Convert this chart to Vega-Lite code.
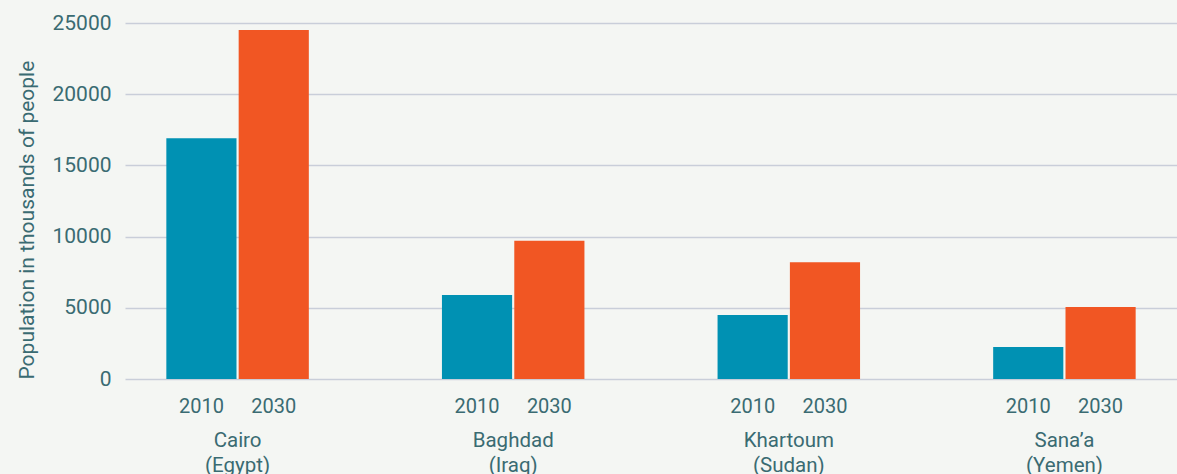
{
  "$schema": "https://vega.github.io/schema/vega-lite/v6.json",
  "width": 1052,
  "height": 356,
  "autosize": {"type": "none"},
  "padding": {"left": 125, "top": 23, "right": 0, "bottom": 95},
  "background": "#f4f6f3",
  "config": {
    "view": {"stroke": null},
    "font": "Roboto",
    "text": {"font": "Roboto"}
  },
  "data": {
    "values": [
      {"city": "Cairo (Egypt)", "year": "2010", "population": 16900},
      {"city": "Cairo (Egypt)", "year": "2030", "population": 24500},
      {"city": "Baghdad (Iraq)", "year": "2010", "population": 5900},
      {"city": "Baghdad (Iraq)", "year": "2030", "population": 9700},
      {"city": "Khartoum (Sudan)", "year": "2010", "population": 4500},
      {"city": "Khartoum (Sudan)", "year": "2030", "population": 8200},
      {"city": "Sana’a (Yemen)", "year": "2010", "population": 2250},
      {"city": "Sana’a (Yemen)", "year": "2030", "population": 5050}
    ]
  },
  "encoding": {
    "x": {
      "field": "city",
      "type": "nominal",
      "sort": null,
      "scale": {"paddingInner": 0.483, "paddingOuter": 0.15},
      "axis": {
        "title": null,
        "domain": false,
        "ticks": false,
        "labelAngle": 0,
        "labelExpr": "split(datum.value, ' ')",
        "labelPadding": 51,
        "labelFontSize": 20.5,
        "labelLineHeight": 25,
        "labelColor": "#3a6b72",
        "labelFont": "Roboto"
      }
    },
    "xOffset": {
      "field": "year",
      "type": "nominal",
      "scale": {"paddingInner": 0.03}
    }
  },
  "layer": [
    {
      "mark": {"type": "bar"},
      "encoding": {
        "y": {
          "field": "population",
          "type": "quantitative",
          "scale": {"domain": [0, 25000], "nice": false},
          "axis": {
            "title": "Population in thousands of people",
            "titleFontSize": 21,
            "titleFontWeight": "normal",
            "titleColor": "#3a6b72",
            "titleFont": "Roboto",
            "titleAnchor": "start",
            "titlePadding": 14,
            "values": [0, 5000, 10000, 15000, 20000, 25000],
            "format": "d",
            "domain": false,
            "ticks": false,
            "labelPadding": 14,
            "labelFontSize": 21,
            "labelColor": "#3a6b72",
            "labelFont": "Roboto",
            "gridColor": "#c9ced9",
            "gridWidth": 1.6
          }
        },
        "color": {
          "field": "year",
          "type": "nominal",
          "scale": {"domain": ["2010", "2030"], "range": ["#0091b3", "#f15623"]},
          "legend": null
        }
      }
    },
    {
      "mark": {"type": "text", "fontSize": 20, "color": "#3a6b72", "baseline": "middle", "dy": 28, "font": "Roboto"},
      "encoding": {
        "y": {"datum": 0, "type": "quantitative"},
        "text": {"field": "year"}
      }
    }
  ]
}
